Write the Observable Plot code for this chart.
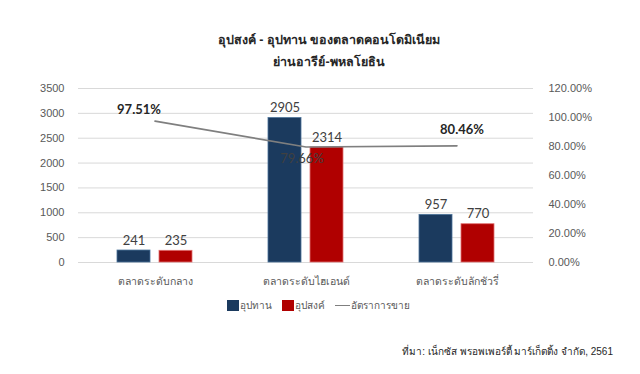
<!DOCTYPE html>
<html>
<head>
<meta charset="utf-8">
<script src="https://cdn.jsdelivr.net/npm/d3@7"></script>
<script src="https://cdn.jsdelivr.net/npm/@observablehq/plot@0.6"></script>
<style>
  body { margin: 0; background: #fff; font-family: "Liberation Sans", "Noto Sans", sans-serif; width: 640px; height: 374px; overflow: hidden; position: relative; }
  #title { position: absolute; top: 29px; left: 18px; width: 622px; text-align: center; font-weight: bold; font-size: 12.5px; line-height: 22px; color: #262626; }
  #chart { position: absolute; top: 78px; left: 0; }
  #legend { position: absolute; top: 298px; left: 227px; display: flex; align-items: center; font-size: 10px; color: #595959; height: 14px; }
  #legend .item { display: flex; align-items: center; margin-right: 10px; }
  #legend .sw { display: inline-block; width: 12px; height: 11px; margin-right: 1px; }
  #legend .ln { display: inline-block; width: 15px; height: 0; border-top: 1.5px solid #7f7f7f; margin-right: 1px; }
  #source { position: absolute; top: 344px; right: 27px; font-size: 10px; color: #262626; }
</style>
</head>
<body>
<div id="title">อุปสงค์ - อุปทาน ของตลาดคอนโดมิเนียม<br>ย่านอารีย์-พหลโยธิน</div>
<div id="chart"></div>
<div id="legend">
  <span class="item"><span class="sw" style="background:#1b3a5e"></span>อุปทาน</span>
  <span class="item"><span class="sw" style="background:#b00000"></span>อุปสงค์</span>
  <span class="item"><span class="ln"></span>อัตราการขาย</span>
</div>
<div id="source">ที่มา: เน็กซัส พรอพเพอร์ตี้ มาร์เก็ตติ้ง จำกัด, 2561</div>
<script>
const categories = ["ตลาดระดับกลาง", "ตลาดระดับไฮเอนด์", "ตลาดระดับลักชัวรี่"];
const supply = [241, 2905, 957];   // อุปทาน
const demand = [235, 2314, 770];   // อุปสงค์
const salesRate = [97.51, 79.66, 80.46]; // อัตราการขาย (%)
const leftTicks = [0, 500, 1000, 1500, 2000, 2500, 3000, 3500];
const rightTicks = [0, 20, 40, 60, 80, 100, 120];

const leftMax = 3500, rightMax = 120;
const toLeft = p => p * leftMax / rightMax;

const supplyData = categories.map((c, i) => ({cat: c, v: supply[i]}));
const demandData = categories.map((c, i) => ({cat: c, v: demand[i]}));
const rateData = categories.map((c, i) => ({cat: c, p: salesRate[i], y: toLeft(salesRate[i])}));

const bw = 34, half = 21;
const inset = (152 - bw) / 2;
const labelFont = "'Lato', 'Open Sans', sans-serif";

const chart = Plot.plot({
  width: 640,
  height: 215,
  marginLeft: 78,
  marginRight: 107,
  marginTop: 10,
  marginBottom: 31,
  style: {fontFamily: "'Liberation Sans', 'Noto Sans', sans-serif", background: "#fff"},
  x: {domain: categories, padding: 0},
  y: {domain: [0, leftMax]},
  marks: [
    Plot.gridY(leftTicks, {stroke: "#d9d9d9", strokeOpacity: 1}),
    Plot.axisY(leftTicks, {anchor: "left", tickSize: 0, tickPadding: 14, fontSize: 11, fill: "#595959", label: null, tickFormat: d => String(d)}),
    Plot.axisY(rightTicks.map(toLeft), {anchor: "right", tickSize: 0, tickPadding: 15, fontSize: 11, fill: "#595959", label: null, textAnchor: "start",
      tickFormat: d => (d * rightMax / leftMax).toFixed(2) + "%"}),
    Plot.axisX({tickSize: 0, tickPadding: 15, fontSize: 10.5, fill: "#595959", label: null}),
    Plot.barY(supplyData, {x: "cat", y: "v", fill: "#1b3a5e", stroke: "#4a7299", strokeWidth: 0.8, insetLeft: inset, insetRight: inset, dx: -half}),
    Plot.barY(demandData, {x: "cat", y: "v", fill: "#b00000", stroke: "#e07070", strokeWidth: 0.8, insetLeft: inset, insetRight: inset, dx: half}),
    Plot.text(supplyData, {x: "cat", y: "v", text: d => String(d.v), dx: -half, dy: -10, fontSize: 13, fill: "#404040", fontFamily: labelFont}),
    Plot.text(demandData, {x: "cat", y: "v", text: d => String(d.v), dx: half, dy: -10, fontSize: 13, fill: "#404040", fontFamily: labelFont}),
    Plot.line(rateData, {x: "cat", y: "y", stroke: "#7f7f7f", strokeWidth: 1.6}),
    Plot.text([rateData[0]], {x: "cat", y: "y", text: d => d.p.toFixed(2) + "%", dx: -16, dy: -11, fontSize: 13, fontWeight: "bold", fill: "#262626", fontFamily: labelFont}),
    Plot.text([rateData[1]], {x: "cat", y: "y", text: d => d.p.toFixed(2) + "%", dx: -4, dy: 12, fontSize: 13, fill: "#404040", fontFamily: labelFont}),
    Plot.text([rateData[2]], {x: "cat", y: "y", text: d => d.p.toFixed(2) + "%", dx: 5, dy: -16, fontSize: 13, fontWeight: "bold", fill: "#262626", fontFamily: labelFont})
  ]
});
document.getElementById("chart").appendChild(chart);
</script>
</body>
</html>
